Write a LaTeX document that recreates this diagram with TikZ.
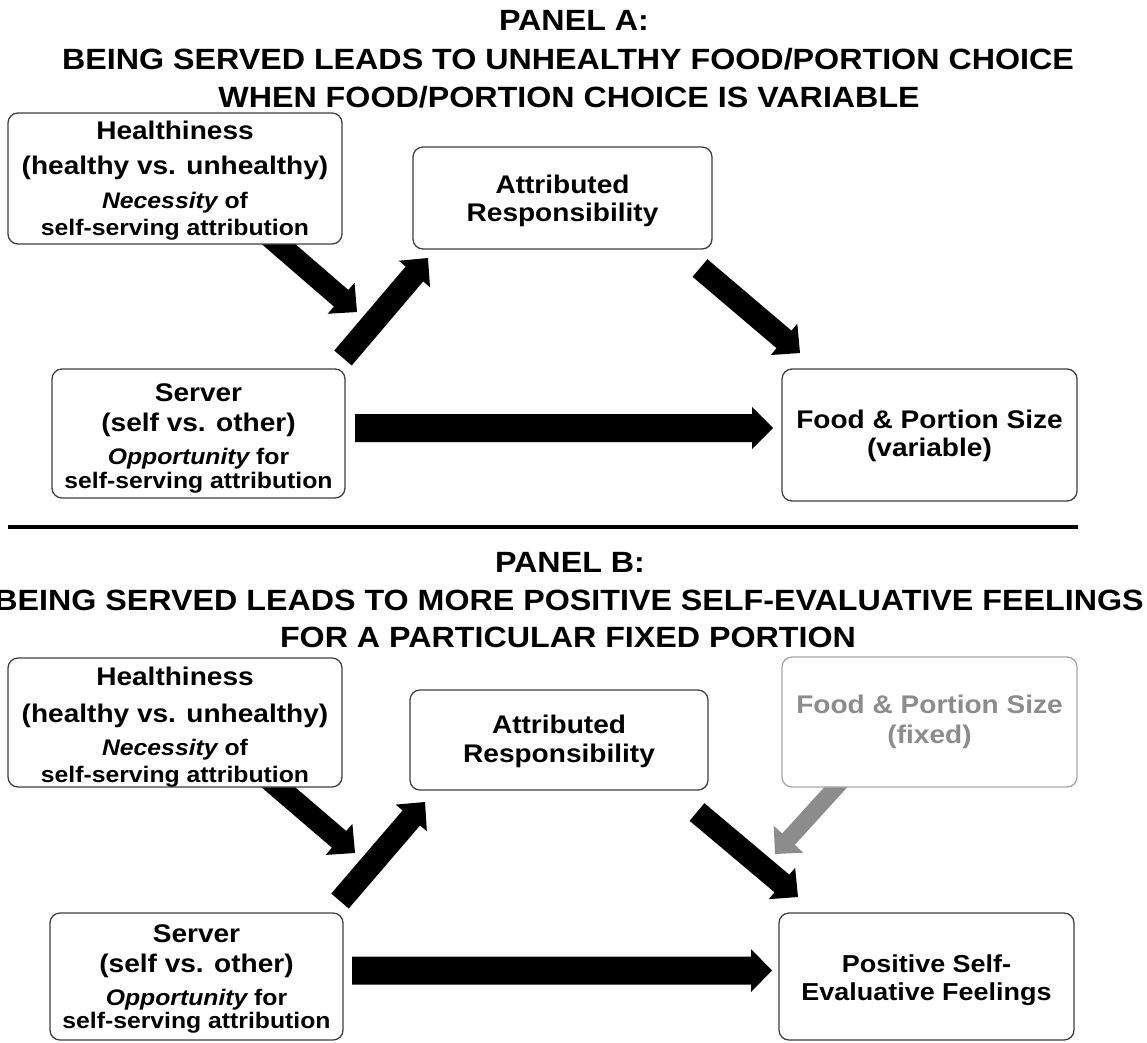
\documentclass[tikz,border=0pt]{standalone}
\usepackage{fontspec}
\usetikzlibrary{calc}
\newfontfamily\bx{Liberation Sans}[FakeStretch=1.1]
\definecolor{boxline}{HTML}{404040}
\definecolor{fadegray}{HTML}{8C8C8C}
\definecolor{fadeline}{HTML}{A6A6A6}
\newcommand\blockarr[6][black]{%
  \coordinate (ba-h) at ($(#3)!#6!(#2)$);
  \fill[#1] ($(#2)!#4!90:(#3)$) -- ($(ba-h)!#4!90:(#3)$) -- ($(ba-h)!#5!90:(#3)$) -- (#3)
    -- ($(ba-h)!#5!-90:(#3)$) -- ($(ba-h)!#4!-90:(#3)$) -- ($(#2)!#4!-90:(#3)$) -- cycle;}
\tikzset{
  box/.style={draw=boxline, line width=1.3pt, rounded corners=10pt, fill=white, inner sep=0pt},
  fadebox/.style={box, draw=fadeline},
  txt/.style={anchor=base, inner sep=0pt, font=\bx\bfseries\fontsize{#1}{#1}\selectfont},
  ttl/.style={txt=29.3},
}
\begin{document}
\begin{tikzpicture}[x=1pt,y=1pt]
\useasboundingbox[fill=white] (0,0) rectangle (1147,-1042);

% ---------- PANEL A ----------
\node[ttl] (tA1) at (574,-30) {PANEL A:};
\node[ttl] (tA2) at (568,-69) {BEING SERVED LEADS TO UNHEALTHY FOOD/PORTION CHOICE};
\node[ttl] (tA3) at (569,-107) {WHEN FOOD/PORTION CHOICE IS VARIABLE};

% arrows (drawn under boxes)
\coordinate (a1s) at (268,-235); \coordinate (a1e) at (357,-312);
\coordinate (a2s) at (343,-358); \coordinate (a2e) at (428,-258);
\coordinate (a3s) at (700,-268); \coordinate (a3e) at (800,-353);
\coordinate (a4s) at (355,-428); \coordinate (a4e) at (773,-428);
\blockarr{a1s}{a1e}{11pt}{20.5pt}{21pt}
\blockarr{a2s}{a2e}{11.5pt}{20.5pt}{21pt}
\blockarr{a3s}{a3e}{11.5pt}{20.5pt}{21pt}
\blockarr{a4s}{a4e}{14pt}{21pt}{21pt}

\node[box, minimum width=334pt, minimum height=131pt] (hA) at (175,-178.5) {};
\node[box, minimum width=293pt, minimum height=129pt] (sA) at (198.5,-433.5) {};
\node[box, minimum width=299pt, minimum height=102pt] (arA) at (562.5,-198) {};
\node[box, minimum width=295pt, minimum height=132pt] (fA) at (929.5,-435) {};

\node[txt=25.5] (hA1) at (175,-139) {Healthiness};
\node[txt=25.5] (hA2) at (175,-174) {(healthy vs. unhealthy)};
\node[txt=22.5] (hA3) at (175,-208) {\itshape Necessity\upshape{} of};
\node[txt=22.5] (hA4) at (175,-235) {self-serving attribution};

\node[txt=25.5] (sA1) at (198.5,-401) {Server};
\node[txt=25.5] (sA2) at (198.5,-431) {(self vs. other)};
\node[txt=22.5] (sA3) at (198.5,-464) {\itshape Opportunity\upshape{} for};
\node[txt=22.5] (sA4) at (198.5,-488) {self-serving attribution};

\node[txt=25.5] (arA1) at (562.5,-193) {Attributed};
\node[txt=25.5] (arA2) at (562.5,-221) {Responsibility};

\node[txt=25.5] (fA1) at (929.5,-428) {Food \& Portion Size};
\node[txt=25.5] (fA2) at (929.5,-456) {(variable)};

% divider
\coordinate (dl) at (8,-527); \coordinate (dr) at (1078,-527);
\draw[line width=4pt] (dl) -- (dr);

% ---------- PANEL B ----------
\node[ttl] (tB1) at (570,-572) {PANEL B:};
\node[ttl] (tB2) at (569,-610) {BEING SERVED LEADS TO MORE POSITIVE SELF-EVALUATIVE FEELINGS};
\node[ttl] (tB3) at (568,-647) {FOR A PARTICULAR FIXED PORTION};

\coordinate (b1s) at (264,-775); \coordinate (b1e) at (355,-853);
\coordinate (b2s) at (340,-901); \coordinate (b2e) at (425,-802);
\coordinate (b3s) at (697,-812); \coordinate (b3e) at (798,-897);
\coordinate (b4s) at (352,-970.5); \coordinate (b4e) at (772,-970.5);
\coordinate (b5s) at (846,-776); \coordinate (b5e) at (775,-854);
\blockarr[fadegray]{b5s}{b5e}{8.5pt}{20pt}{20pt}
\blockarr{b1s}{b1e}{11pt}{20.5pt}{21pt}
\blockarr{b2s}{b2e}{11.5pt}{20.5pt}{21pt}
\blockarr{b3s}{b3e}{11.5pt}{20.5pt}{21pt}
\blockarr{b4s}{b4e}{14pt}{21.5pt}{21pt}

\node[box, minimum width=334pt, minimum height=129pt] (hB) at (175,-722.5) {};
\node[box, minimum width=293pt, minimum height=127pt] (sB) at (196.5,-976.5) {};
\node[box, minimum width=298pt, minimum height=100pt] (arB) at (559,-740) {};
\node[fadebox, minimum width=295pt, minimum height=130pt] (fB) at (929.5,-722) {};
\node[box, minimum width=295pt, minimum height=127pt] (pB) at (926.5,-976.5) {};

\node[txt=25.5] (hB1) at (175,-685) {Healthiness};
\node[txt=25.5] (hB2) at (175,-722) {(healthy vs. unhealthy)};
\node[txt=22.5] (hB3) at (175,-755) {\itshape Necessity\upshape{} of};
\node[txt=22.5] (hB4) at (175,-782) {self-serving attribution};

\node[txt=25.5] (sB1) at (196.5,-942) {Server};
\node[txt=25.5] (sB2) at (196.5,-972) {(self vs. other)};
\node[txt=22.5] (sB3) at (196.5,-1005) {\itshape Opportunity\upshape{} for};
\node[txt=22.5] (sB4) at (196.5,-1028) {self-serving attribution};

\node[txt=25.5] (arB1) at (559,-733) {Attributed};
\node[txt=25.5] (arB2) at (559,-762) {Responsibility};

\node[txt=25.5, text=fadegray] (fB1) at (929.5,-713) {Food \& Portion Size};
\node[txt=25.5, text=fadegray] (fB2) at (929.5,-743) {(fixed)};

\node[txt=24.5] (pB1) at (926.5,-972) {Positive Self-};
\node[txt=24.5] (pB2) at (926.5,-1000) {Evaluative Feelings};
\end{tikzpicture}
\end{document}
